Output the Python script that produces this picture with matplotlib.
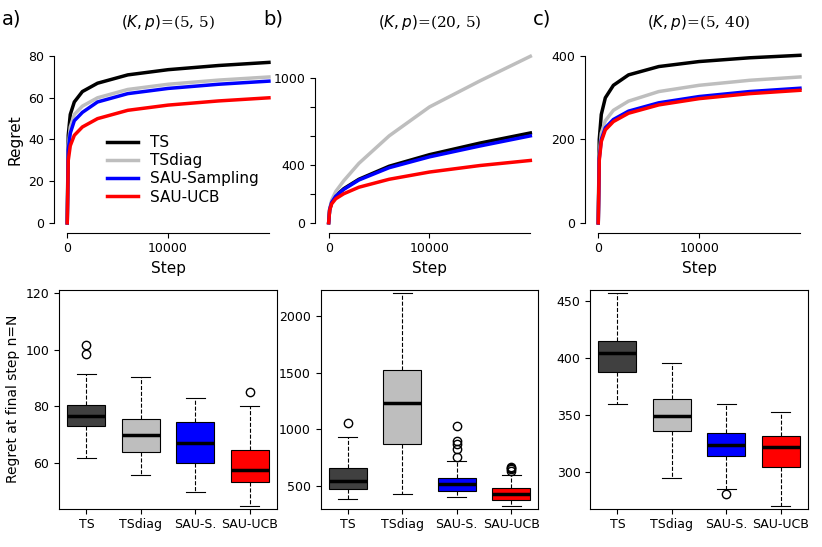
import matplotlib
matplotlib.use("Agg")
import matplotlib.pyplot as plt

steps = [0, 100, 300, 700, 1500, 3000, 6000, 10000, 15000, 20000]
methods = ["TS", "TSdiag", "SAU-Sampling", "SAU-UCB"]
box_labels = ["TS", "TSdiag", "SAU-S.", "SAU-UCB"]
colors = ["black", "#bebebe", "blue", "red"]
box_colors = ["#404040", "#bebebe", "blue", "red"]
titles = ["$(K, p)$=(5, 5)", "$(K, p)$=(20, 5)", "$(K, p)$=(5, 40)"]
panel_tags = ["a)", "b)", "c)"]

reg_a = [[0, 42, 52, 58, 63, 67, 71, 73.5, 75.5, 77],
         [0, 37, 46, 52, 56, 60, 64, 66.5, 68.5, 70],
         [0, 35, 43, 49, 53, 58, 62, 64.5, 66.5, 68],
         [0, 30, 37, 42, 46, 50, 54, 56.5, 58.5, 60]]
reg_b = [[0, 90, 140, 185, 235, 300, 390, 470, 550, 620],
         [0, 95, 155, 215, 290, 410, 600, 800, 980, 1150],
         [0, 90, 140, 183, 230, 295, 380, 455, 530, 600],
         [0, 85, 130, 165, 200, 245, 300, 350, 395, 430]]
reg_c = [[0, 200, 260, 300, 330, 355, 375, 387, 396, 402],
         [0, 165, 215, 245, 270, 292, 315, 330, 342, 350],
         [0, 155, 200, 228, 248, 268, 288, 303, 315, 323],
         [0, 150, 195, 223, 243, 263, 283, 298, 310, 318]]

# box stats: whislo, q1, med, q3, whishi, fliers
box_a = [(62, 73, 76.5, 80.5, 91.5, [98.5, 101.5]),
         (56, 64, 70, 75.5, 90.5, []),
         (50, 60, 67, 74.5, 83, []),
         (45, 53.5, 57.5, 64.5, 80, [85])]
box_b = [(390, 470, 545, 660, 930, [1060]),
         (430, 870, 1230, 1520, 2200, []),
         (400, 460, 520, 570, 720, [760, 830, 870, 900, 1030]),
         (320, 380, 430, 480, 600, [630, 650, 660, 670])]
box_c = [(360, 388, 405, 415, 457, []),
         (295, 336, 349, 364, 396, []),
         (285, 314, 324, 334, 360, [281]),
         (270, 305, 322, 332, 353, [])]

regs = [reg_a, reg_b, reg_c]
boxes = [box_a, box_b, box_c]
line_ylims = [(-2, 82), (-30, 1180), (-10, 410)]
line_ticks = [[0, 20, 40, 60, 80], [0, 200, 400, 600, 800, 1000], [0, 200, 400]]
line_labels = [["0", "20", "40", "60", "80"], ["0", "", "400", "", "", "1000"], ["0", "200", "400"]]
box_ticks = [[60, 80, 100, 120], [500, 1000, 1500, 2000], [300, 350, 400, 450]]
box_ylims = [(44, 121), (300, 2230), (268, 460)]

fig = plt.figure(figsize=(8.22, 5.47), dpi=100)
lefts = [0.072, 0.39, 0.718]
w = 0.265
for i in range(3):
    ax = fig.add_axes([lefts[i], 0.585, w, 0.32])
    for m in range(4):
        ax.plot(steps, regs[i][m], color=colors[m], lw=2.5, label=methods[m])
    ax.set_ylim(*line_ylims[i])
    ax.set_xlim(-800, 20800)
    ax.set_yticks(line_ticks[i]); ax.set_yticklabels(line_labels[i])
    ax.set_xticks([0, 10000]); ax.set_xticklabels(["0", "10000"])
    for s in ["top", "right"]:
        ax.spines[s].set_visible(False)
    ax.spines["left"].set_bounds(line_ticks[i][0], line_ticks[i][-1])
    ax.spines["bottom"].set_bounds(0, 20000)
    ax.spines["left"].set_position(("outward", 4))
    ax.spines["bottom"].set_position(("outward", 4))
    ax.set_xlabel("Step", fontsize=11)
    ax.tick_params(labelsize=9)
    ax.set_title(titles[i], family="serif", fontsize=11, pad=18)
    fig.text(lefts[i] - 0.07, 0.955, panel_tags[i], fontsize=14)
    if i == 0:
        ax.set_ylabel("Regret", fontsize=11)
        ax.legend(frameon=False, loc="lower right", fontsize=11, handlelength=2,
                  bbox_to_anchor=(0.98, 0.05), labelspacing=0.2)

    bx = fig.add_axes([lefts[i], 0.07, w, 0.40])
    stats = []
    for b in boxes[i]:
        stats.append(dict(whislo=b[0], q1=b[1], med=b[2], q3=b[3], whishi=b[4], fliers=b[5]))
    bp = bx.bxp(stats, positions=[1, 2, 3, 4], widths=0.7, patch_artist=True,
                medianprops=dict(color="black", lw=2.5),
                whiskerprops=dict(ls="--", lw=0.8), capprops=dict(lw=0.8),
                flierprops=dict(marker="o", mfc="none", mec="black", ms=6))
    for p, c in zip(bp["boxes"], box_colors):
        p.set_facecolor(c); p.set_edgecolor("black"); p.set_linewidth(0.8)
    bx.set_xlim(0.5, 4.5)
    bx.set_ylim(*box_ylims[i])
    bx.set_yticks(box_ticks[i])
    bx.set_xticks([1, 2, 3, 4]); bx.set_xticklabels(box_labels)
    bx.tick_params(labelsize=9)
    if i == 0:
        bx.set_ylabel("Regret at final step n=N", fontsize=10)

fig.savefig("out.png", dpi=100)
